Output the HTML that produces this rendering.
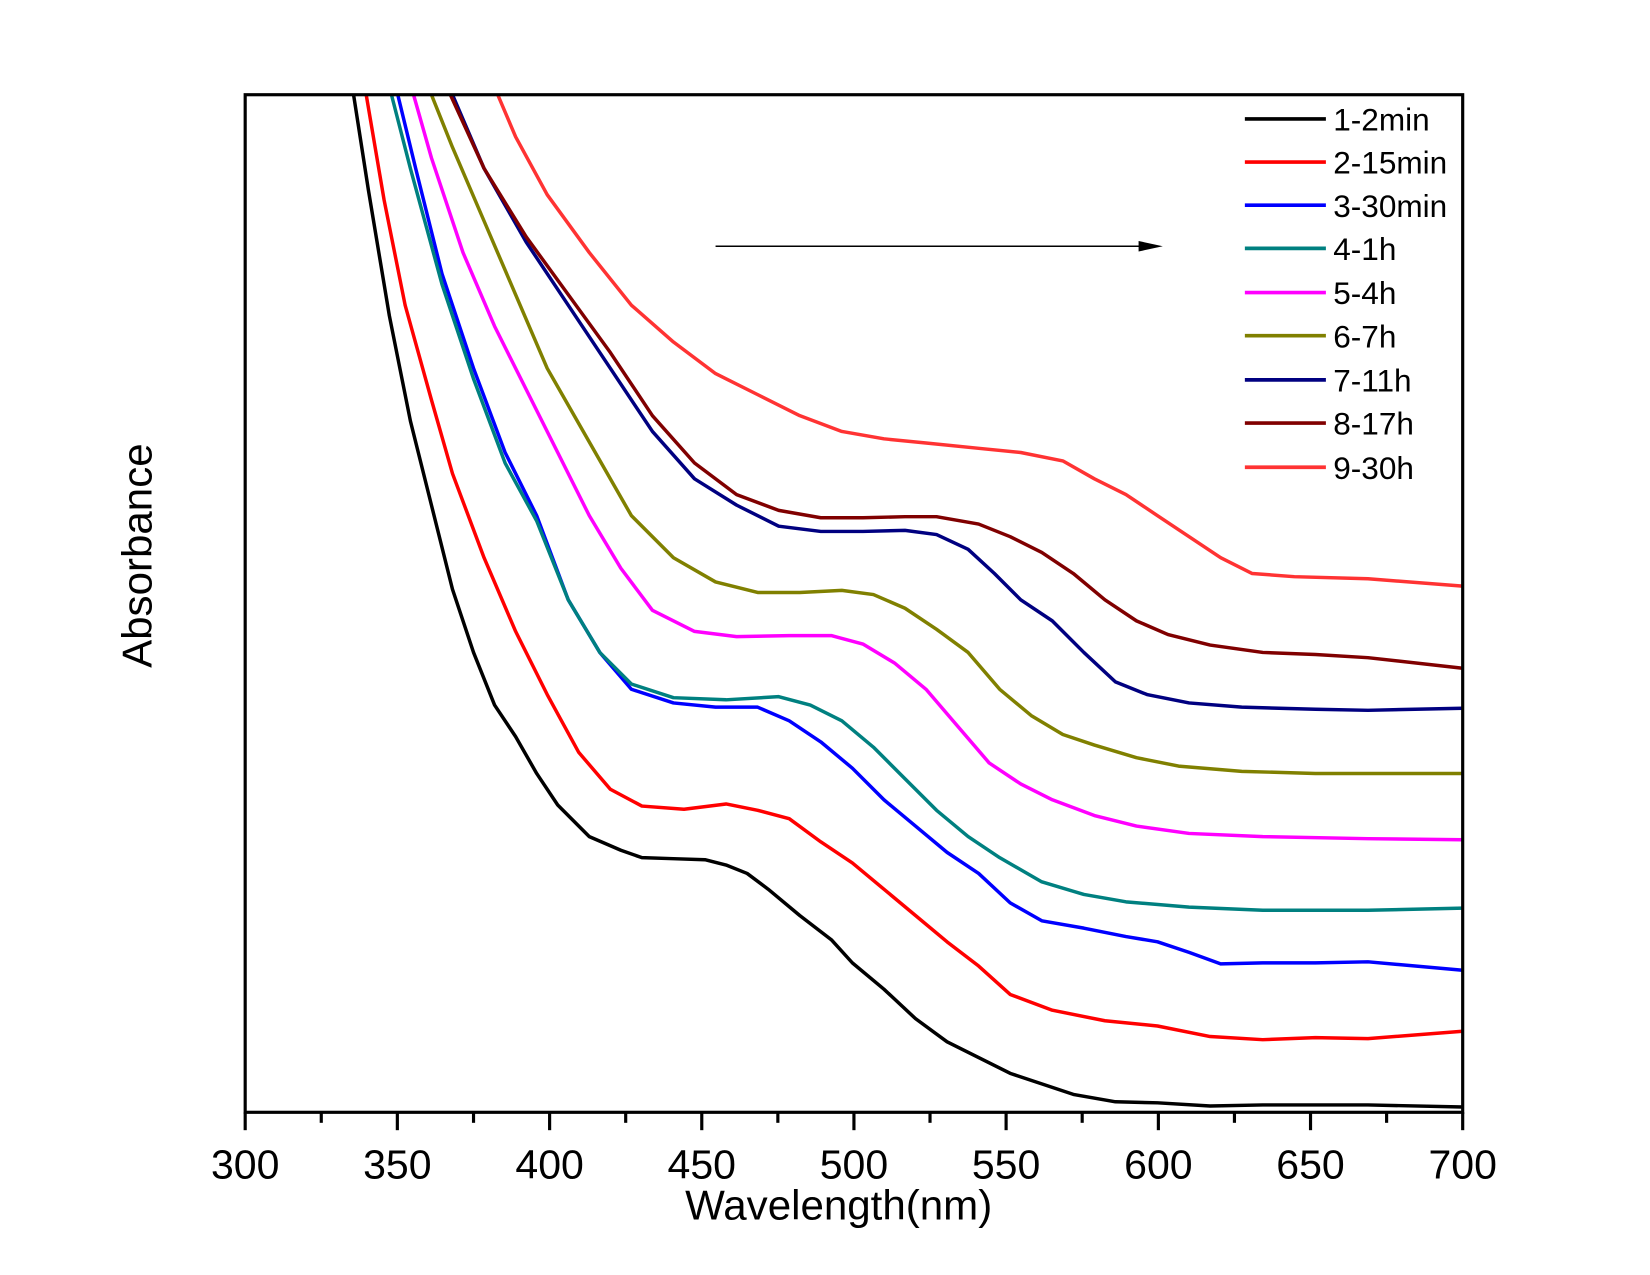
<!DOCTYPE html>
<html><head><meta charset="utf-8"><style>html,body{margin:0;padding:0;background:#fff}svg{display:block}</style></head>
<body>
<svg width="1650" height="1275" viewBox="0 0 1568 1211.6" xmlns="http://www.w3.org/2000/svg" font-family="Liberation Sans, Arial, sans-serif">
<defs><clipPath id="c"><rect x="233" y="90" width="1157" height="967"/></clipPath></defs>
<g clip-path="url(#c)" fill="none" stroke-width="3.3" stroke-linejoin="round">
<polyline stroke="#000" points="336,90 350,180 370,300 390,400 410,480 430,560 450,620 470,670 490,700 510,735 530,765 560,795 590,808 610,815 640,816 670,817 690,822 710,830 730,845 760,870 790,893 810,915 840,940 870,968 900,990 930,1005 960,1020 990,1030 1020,1040 1060,1047 1100,1048 1150,1051 1200,1050 1250,1050 1300,1050 1390,1052"/>
<polyline stroke="#ff0000" points="348,90 365,190 385,290 410,380 430,450 460,530 490,600 520,660 550,715 580,750 610,766 650,769 690,764 720,770 750,778 780,800 810,820 840,845 870,870 900,895 930,918 960,945 1000,960 1050,970 1100,975 1150,985 1200,988 1250,986 1300,987 1390,980"/>
<polyline stroke="#0000ff" points="378,90 395,160 420,260 450,350 480,430 510,490 540,570 570,620 600,655 640,668 680,672 720,672 750,685 780,705 810,730 840,760 870,785 900,810 930,830 960,858 990,875 1030,882 1070,890 1100,895 1130,905 1160,916 1200,915 1250,915 1300,914 1390,922"/>
<polyline stroke="#008080" points="372,90 390,160 420,270 450,360 480,440 510,495 540,570 570,620 600,650 640,663 690,665 740,662 770,670 800,685 830,710 860,740 890,770 920,795 950,815 990,838 1030,850 1070,857 1130,862 1200,865 1300,865 1390,863"/>
<polyline stroke="#ff00ff" points="393,90 410,150 440,240 470,310 500,370 530,430 560,490 590,540 620,580 660,600 700,605 750,604 790,604 820,612 850,630 880,655 910,690 940,725 970,745 1000,760 1040,775 1080,785 1130,792 1200,795 1300,797 1390,798"/>
<polyline stroke="#808000" points="410,90 430,140 460,210 490,280 520,350 560,420 600,490 640,530 680,553 720,563 760,563 800,561 830,565 860,578 890,598 920,620 950,655 980,680 1010,698 1040,708 1080,720 1120,728 1180,733 1250,735 1300,735 1390,735"/>
<polyline stroke="#000080" points="430,90 460,160 500,230 540,290 580,350 620,410 660,455 700,480 740,500 780,505 820,505 860,504 890,508 920,522 945,545 970,570 1000,590 1030,620 1060,648 1090,660 1130,668 1180,672 1250,674 1300,675 1390,673"/>
<polyline stroke="#800000" points="428,90 460,160 500,225 540,280 580,335 620,395 660,440 700,470 740,485 780,492 820,492 860,491 890,491 930,498 960,510 990,525 1020,545 1050,570 1080,590 1110,603 1150,613 1200,620 1250,622 1300,625 1390,635"/>
<polyline stroke="#ff3333" points="473,90 490,130 520,185 560,240 600,290 640,325 680,355 720,375 760,395 800,410 840,417 880,421 930,426 970,430 1010,438 1040,455 1070,470 1100,490 1130,510 1160,530 1190,545 1230,548 1300,550 1390,557"/>
</g>
<rect x="233" y="90" width="1157" height="967" fill="none" stroke="#000" stroke-width="3"/>
<g stroke="#000" stroke-width="3">
<line x1="233" y1="1057" x2="233" y2="1074"/><line x1="377.6" y1="1057" x2="377.6" y2="1074"/><line x1="522.3" y1="1057" x2="522.3" y2="1074"/><line x1="666.9" y1="1057" x2="666.9" y2="1074"/><line x1="811.5" y1="1057" x2="811.5" y2="1074"/><line x1="956.1" y1="1057" x2="956.1" y2="1074"/><line x1="1100.8" y1="1057" x2="1100.8" y2="1074"/><line x1="1245.4" y1="1057" x2="1245.4" y2="1074"/><line x1="1390" y1="1057" x2="1390" y2="1074"/>
<line x1="305.3" y1="1057" x2="305.3" y2="1067"/><line x1="450" y1="1057" x2="450" y2="1067"/><line x1="594.6" y1="1057" x2="594.6" y2="1067"/><line x1="739.2" y1="1057" x2="739.2" y2="1067"/><line x1="883.8" y1="1057" x2="883.8" y2="1067"/><line x1="1028.4" y1="1057" x2="1028.4" y2="1067"/><line x1="1173.1" y1="1057" x2="1173.1" y2="1067"/><line x1="1317.7" y1="1057" x2="1317.7" y2="1067"/>
</g>
<g font-size="39" text-anchor="middle" fill="#000">
<text x="233" y="1120">300</text><text x="377.6" y="1120">350</text><text x="522.3" y="1120">400</text><text x="666.9" y="1120">450</text><text x="811.5" y="1120">500</text><text x="956.1" y="1120">550</text><text x="1100.8" y="1120">600</text><text x="1245.4" y="1120">650</text><text x="1390" y="1120">700</text>
<text x="797" y="1159" font-size="40">Wavelength(nm)</text>
<text transform="translate(144,528) rotate(-90)" font-size="40">Absorbance</text>
</g>
<line x1="680" y1="234" x2="1085" y2="234" stroke="#000" stroke-width="1.5"/>
<polygon points="1105,234 1082,229 1082,239" fill="#000"/>
<g stroke-width="3.5">
<line x1="1183" y1="113" x2="1260" y2="113" stroke="#000"/>
<line x1="1183" y1="154" x2="1260" y2="154" stroke="#ff0000"/>
<line x1="1183" y1="195" x2="1260" y2="195" stroke="#0000ff"/>
<line x1="1183" y1="236" x2="1260" y2="236" stroke="#008080"/>
<line x1="1183" y1="278" x2="1260" y2="278" stroke="#ff00ff"/>
<line x1="1183" y1="319" x2="1260" y2="319" stroke="#808000"/>
<line x1="1183" y1="361" x2="1260" y2="361" stroke="#000080"/>
<line x1="1183" y1="402" x2="1260" y2="402" stroke="#800000"/>
<line x1="1183" y1="444" x2="1260" y2="444" stroke="#ff3333"/>
</g>
<g font-size="30" fill="#000">
<text x="1267" y="124">1-2min</text><text x="1267" y="165">2-15min</text><text x="1267" y="206">3-30min</text><text x="1267" y="247">4-1h</text><text x="1267" y="289">5-4h</text><text x="1267" y="330">6-7h</text><text x="1267" y="372">7-11h</text><text x="1267" y="413">8-17h</text><text x="1267" y="455">9-30h</text>
</g>
</svg>
</body></html>
